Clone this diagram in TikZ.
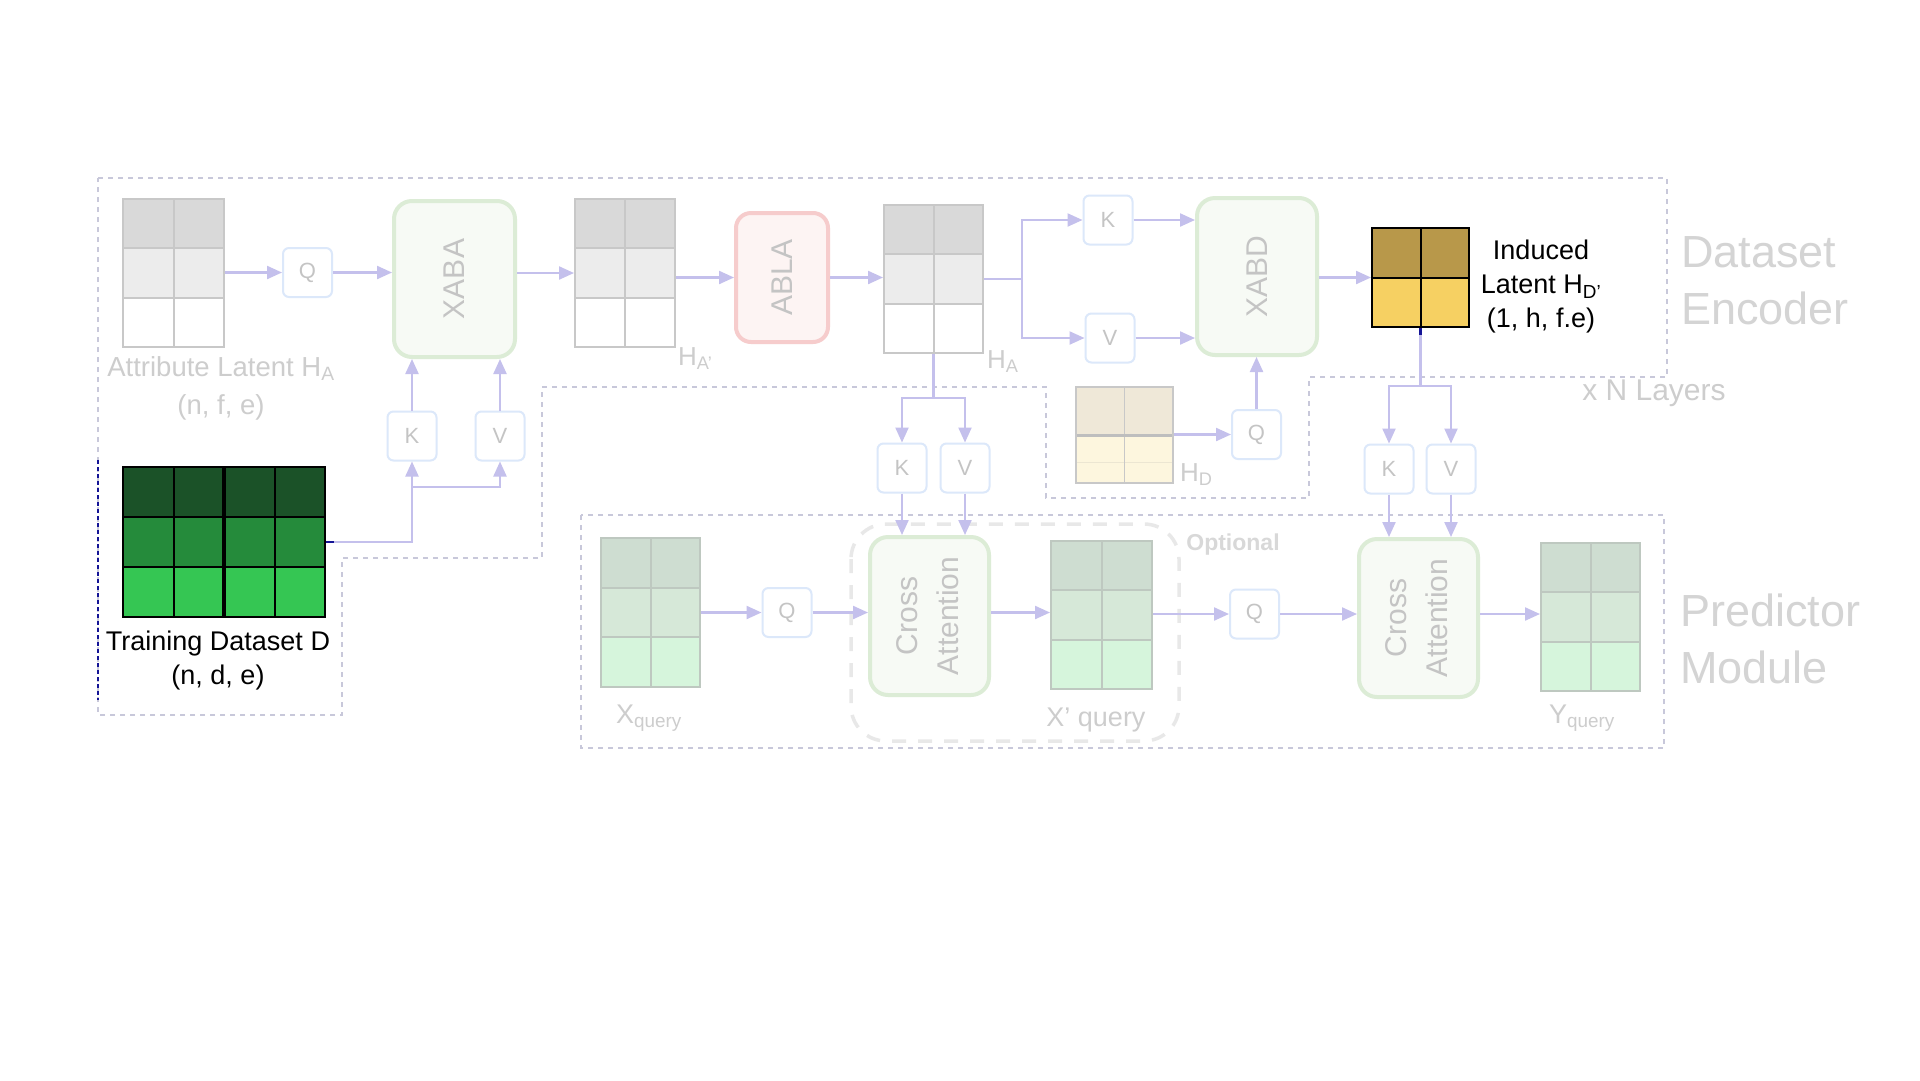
\documentclass[tikz,border=0pt]{standalone}
\usepackage{fontspec}
\setmainfont{Liberation Sans}
\usetikzlibrary{arrows.meta}
\definecolor{arr}{RGB}{196,192,236}
\definecolor{dashc}{RGB}{200,200,218}
\definecolor{qkvb}{RGB}{220,232,250}
\definecolor{txtg}{RGB}{196,196,196}
\definecolor{grnb}{RGB}{220,236,214}
\definecolor{grnf}{RGB}{247,250,245}
\definecolor{redb}{RGB}{246,204,204}
\definecolor{redf}{RGB}{253,244,243}
\definecolor{ga}{RGB}{217,217,217}
\definecolor{gb}{RGB}{236,236,236}
\definecolor{gline}{RGB}{200,200,200}
\definecolor{da}{RGB}{27,82,40}
\definecolor{db}{RGB}{37,139,59}
\definecolor{dc}{RGB}{53,198,83}
\definecolor{ya}{RGB}{184,152,74}
\definecolor{yb}{RGB}{246,208,98}
\definecolor{ba}{RGB}{239,232,216}
\definecolor{bb}{RGB}{253,246,222}
\definecolor{qa}{RGB}{206,221,209}
\definecolor{qb}{RGB}{214,232,216}
\definecolor{qc}{RGB}{214,245,220}
\definecolor{qline}{RGB}{190,200,192}
\definecolor{selb}{RGB}{20,20,150}
\definecolor{optc}{RGB}{232,232,232}
\definecolor{lbl}{RGB}{205,205,205}
\definecolor{bigl}{RGB}{212,212,212}
\definecolor{hdfaint}{RGB}{236,230,210}
\definecolor{hdsep}{RGB}{190,190,190}
\definecolor{optt}{RGB}{216,216,216}
% name, x1, y1, x2, y2, row colours 1-3, line colour
\newcommand{\gridthree}[9]{%
  \pgfmathsetmacro\gya{#3+(#5-#3)/3}%
  \pgfmathsetmacro\gyb{#3+2*(#5-#3)/3}%
  \pgfmathsetmacro\gxm{(#2+#4)/2}%
  \pgfmathsetmacro\gym{(#3+#5)/2}%
  \pgfmathsetmacro\gw{#4-#2}%
  \pgfmathsetmacro\gh{#5-#3}%
  \fill[#6] (#2,#3) rectangle (#4,\gya);
  \fill[#7] (#2,\gya) rectangle (#4,\gyb);
  \fill[#8] (#2,\gyb) rectangle (#4,#5);
  \draw[#9, line width=2pt] (#2,\gya) -- (#4,\gya) (#2,\gyb) -- (#4,\gyb) (\gxm,#3) -- (\gxm,#5);
  \node[draw=#9, line width=2pt, inner sep=0pt, minimum width=\gw pt, minimum height=\gh pt] (#1) at (\gxm,\gym) {};
}
\begin{document}
\begin{tikzpicture}[x=1pt,y=-1pt,
  flow/.style={draw=arr, line width=2.2pt, -{Triangle[length=15pt,width=13pt]}},
  plain/.style={draw=arr, line width=2.2pt},
  qkv/.style={draw=qkvb, line width=2pt, fill=white, rounded corners=6pt, minimum size=49pt, inner sep=0pt, text=txtg, font=\fontsize{22}{26}\selectfont},
  xabox/.style={draw=grnb, line width=4pt, fill=grnf, rounded corners=18pt, inner sep=0pt, text=txtg, font=\fontsize{30}{41}\selectfont},
  ablabox/.style={draw=redb, line width=4pt, fill=redf, rounded corners=15pt, inner sep=0pt, text=txtg, font=\fontsize{30}{36}\selectfont},
  outline/.style={draw=dashc, line width=1.6pt, dash pattern=on 5pt off 5pt},
  lbltext/.style={text=lbl, inner sep=0pt, font=\fontsize{27}{38}\selectfont, align=center},
  blktext/.style={text=black, inner sep=0pt, font=\fontsize{27}{34}\selectfont, align=center},
  bigtext/.style={text=bigl, inner sep=0pt, font=\fontsize{45}{57}\selectfont, align=left, anchor=west}
]
\fill[white] (0,0) rectangle (1920,1080);
\useasboundingbox (0,0) rectangle (1920,1080);

% outlines
\draw[outline] (98,178) -- (1667,178) -- (1667,377) -- (1309,377) -- (1309,498) -- (1046,498) -- (1046,387) -- (542,387) -- (542,558) -- (342,558) -- (342,715) -- (98,715) -- cycle;
\draw[selb, line width=1.6pt, dash pattern=on 4pt off 3pt] (98,460) -- (98,700);
\draw[outline] (581,515) rectangle (1664,748);
\draw[optc, line width=3.5pt, dash pattern=on 14pt off 12pt, rounded corners=35pt] (851,524) rectangle (1179,741);

% matrices
\gridthree{HA1}{123}{199}{224}{347}{ga}{gb}{white}{gline}
\gridthree{HAp}{575}{199}{675}{347}{ga}{gb}{white}{gline}
\gridthree{HA2}{884}{205}{983}{353}{ga}{gb}{white}{gline}
\gridthree{Xq}{601}{538}{700}{687}{qa}{qb}{qc}{qline}
\gridthree{Xpq}{1051}{541}{1152}{689}{qa}{qb}{qc}{qline}
\gridthree{Yq}{1541}{543}{1640}{691}{qa}{qb}{qc}{qline}

% training dataset D
\fill[da] (123,467) rectangle (325,517);
\fill[db] (123,517) rectangle (325,567);
\fill[dc] (123,567) rectangle (325,617);
\draw[black, line width=2pt] (123,517) -- (325,517) (123,567) -- (325,567) (173.5,467) -- (173.5,617) (274.5,467) -- (274.5,617);
\draw[black, line width=3.5pt] (224,467) -- (224,617);
\node[draw=black, line width=2pt, inner sep=0pt, minimum width=202pt, minimum height=150pt] (D) at (224,542) {};

% H_D
\fill[ba] (1076,387) rectangle (1173,435);
\fill[bb] (1076,435) rectangle (1173,483);
\draw[hdfaint, line width=1pt] (1076,462) -- (1173,462);
\draw[gline, line width=1.5pt] (1124.5,387) -- (1124.5,483);
\draw[hdsep, line width=3pt] (1076,435) -- (1173,435);
\node[draw=gline, line width=2pt, inner sep=0pt, minimum width=97pt, minimum height=96pt] (HD) at (1124.5,435) {};

% H_D'
\fill[ya] (1372,228) rectangle (1469,278);
\fill[yb] (1372,278) rectangle (1469,327);
\draw[black, line width=2pt] (1372,278) -- (1469,278) (1420.5,228) -- (1420.5,327);
\node[draw=black, line width=2pt, inner sep=0pt, minimum width=97pt, minimum height=99pt] (HDp) at (1420.5,277.5) {};

% processing boxes
\node[xabox, minimum width=121pt, minimum height=156pt] (XABA) at (454.5,279) {\rotatebox{90}{XABA}};
\node[ablabox, minimum width=92pt, minimum height=129pt] (ABLA) at (782,277.5) {\rotatebox{90}{ABLA}};
\node[xabox, minimum width=120pt, minimum height=157pt] (XABD) at (1257,276.5) {\rotatebox{90}{XABD}};
\node[xabox, minimum width=119pt, minimum height=158pt] (CA1) at (929.5,616) {\rotatebox{90}{\begin{tabular}{@{}c@{}}Cross\\Attention\end{tabular}}};
\node[xabox, minimum width=119pt, minimum height=158pt] (CA2) at (1418.5,618) {\rotatebox{90}{\begin{tabular}{@{}c@{}}Cross\\Attention\end{tabular}}};

% Q K V boxes
\node[qkv] (Q1) at (307.5,272.5) {Q};
\node[qkv] (K1) at (412,436) {K};
\node[qkv] (V1) at (500,436) {V};
\node[qkv] (K2) at (1108,220) {K};
\node[qkv] (V2) at (1110,338) {V};
\node[qkv] (Q3) at (1256.5,434.5) {Q};
\node[qkv] (K4) at (902,468) {K};
\node[qkv] (V4) at (965,468) {V};
\node[qkv] (K5) at (1389,469) {K};
\node[qkv] (V5) at (1451,469) {V};
\node[qkv] (Q5) at (787,612.5) {Q};
\node[qkv] (Q2) at (1254.5,614) {Q};

% helper coordinates
\coordinate (y487) at (0,487);
\coordinate (y398) at (0,398);
\coordinate (y386) at (0,386);
\coordinate (j1) at (1022,279);
\coordinate (j2) at (K1.south |- y487);
\coordinate (j3) at (HA2.south |- y398);
\coordinate (j4) at (HDp.south |- y386);

% connectors: encoder
\draw[flow] (HA1.east |- Q1.west) -- (Q1.west);
\draw[flow] (Q1.east) -- (Q1.east -| XABA.west);
\draw[flow] (XABA.east |- HAp.west) -- (HAp.west);
\draw[flow] (HAp.east |- ABLA.west) -- (ABLA.west);
\draw[flow] (ABLA.east) -- (ABLA.east -| HA2.west);
\draw[plain] (HA2.east |- j1) -- (j1);
\draw[flow] (j1) |- (K2.west);
\draw[flow] (j1) |- (V2.west);
\draw[flow] (K2.east) -- (K2.east -| XABD.west);
\draw[flow] (V2.east) -- (V2.east -| XABD.west);
\draw[flow] (XABD.east |- HDp.west) -- (HDp.west);
\draw[flow] (HD.east |- Q3.west) -- (Q3.west);
\draw[flow] (Q3.north) -- (Q3.north |- XABD.south);
\draw[flow] (D.east) -| (K1.south);
\draw[flow] (j2) -| (V1.south);
\draw[flow] (K1.north) -- (K1.north |- XABA.south);
\draw[flow] (V1.north) -- (V1.north |- XABA.south);
\draw[selb, line width=2pt] (D.east) -- ++(8,0);

% connectors to predictor
\draw[plain] (HA2.south) -- (j3);
\draw[flow] (j3) -| (K4.north);
\draw[flow] (j3) -| (V4.north);
\draw[flow] (K4.south) -- (K4.south |- CA1.north);
\draw[flow] (V4.south) -- (V4.south |- CA1.north);
\draw[plain] (HDp.south) -- (j4);
\draw[flow] (j4) -| (K5.north);
\draw[flow] (j4) -| (V5.north);
\draw[flow] (K5.south) -- (K5.south |- CA2.north);
\draw[flow] (V5.south) -- (V5.south |- CA2.north);
\draw[selb, line width=2.5pt] (HDp.south) -- ++(0,7);

% predictor chain
\draw[flow] (Xq.east |- Q5.west) -- (Q5.west);
\draw[flow] (Q5.east) -- (Q5.east -| CA1.west);
\draw[flow] (CA1.east |- Q5.east) -- (Q5.east -| Xpq.west);
\draw[flow] (Xpq.east |- Q2.west) -- (Q2.west);
\draw[flow] (Q2.east) -- (Q2.east -| CA2.west);
\draw[flow] (CA2.east |- Q2.east) -- (Q2.east -| Yq.west);

% labels
\node[lbltext, font=\fontsize{27.5}{38}\selectfont] (lHA1) at (221,388) {Attribute Latent H\textsubscript{A}\\(n, f, e)};
\node[lbltext, anchor=west, font=\fontsize{26}{30}\selectfont] (lHAp) at (678,359) {H\textsubscript{A'}};
\node[lbltext, anchor=west, font=\fontsize{26}{30}\selectfont] (lHA2) at (987,362) {H\textsubscript{A}};
\node[lbltext, anchor=west, font=\fontsize{26}{30}\selectfont] (lHD) at (1180,475) {H\textsubscript{D}};
\node[blktext] (lD) at (218,660) {Training Dataset D\\(n, d, e)};
\node[blktext] (lHDp) at (1541,287) {Induced\\Latent H\textsubscript{D'}\\(1, h, f.e)};
\node[lbltext] (lXq) at (649,718) {X\textsubscript{query}};
\node[lbltext] (lXpq) at (1096,720) {X' query};
\node[lbltext] (lYq) at (1582,718) {Y\textsubscript{query}};
\node[lbltext, text=optt, font=\bfseries\fontsize{23}{28}\selectfont] (lopt) at (1233,545) {Optional};
\node[lbltext, font=\fontsize{30}{36}\selectfont] (lN) at (1654,393) {x N Layers};
\node[bigtext] (lenc) at (1681,281) {Dataset\\Encoder};
\node[bigtext] (lpred) at (1680,639) {Predictor\\Module};
\end{tikzpicture}
\end{document}
